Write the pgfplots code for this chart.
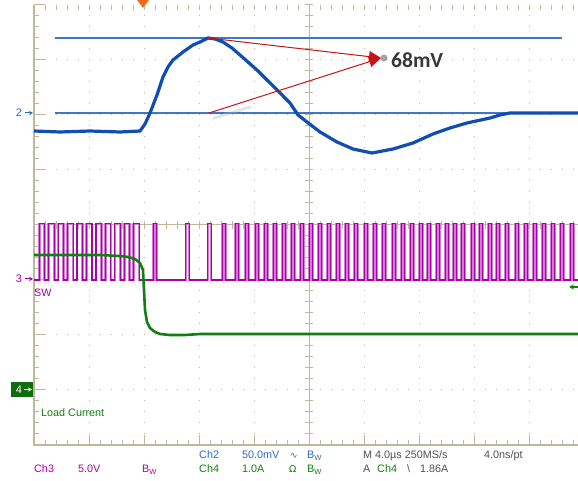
\documentclass[border=0pt]{standalone}
\usepackage{pgfplots}
\pgfplotsset{compat=1.18}
\usepackage{fontspec}
\setmainfont{Liberation Sans}
\newfontfamily\calfont{Carlito}
\newfontfamily\dvfont{DejaVu Sans}
\usetikzlibrary{arrows.meta}
\definecolor{scopetan}{RGB}{193,184,155}
\definecolor{trblue}{RGB}{18,78,178}
\definecolor{curblue}{RGB}{60,120,200}
\definecolor{txblue}{RGB}{45,106,200}
\definecolor{trmag}{RGB}{170,0,170}
\definecolor{trmaglight}{RGB}{215,120,215}
\definecolor{trgreen}{RGB}{16,128,16}
\definecolor{boxgreen}{RGB}{14,110,14}
\definecolor{arrred}{RGB}{200,20,20}
\definecolor{txgray}{RGB}{80,80,80}
\definecolor{trigorange}{RGB}{242,107,29}
\newcommand{\bw}{B\raisebox{-1.6pt}{\fontsize{7.5}{8}\selectfont W}}
\pgfplotstableread{
t v
0 3
0.385 4.02
0.785 3
1.072 4.02
1.472 3
1.758 4.02
2.158 3
2.445 4.02
2.845 3
3.131 4.02
3.531 3
3.818 4.02
4.218 3
4.504 4.02
4.904 3
5.191 4.02
5.591 3
5.877 4.02
6.277 3
6.564 4.02
6.964 3
7.250 4.02
7.650 3
8.68 4.02
8.92 3
11.044 4.02
11.284 3
12.644 4.02
12.884 3
13.698 4.02
13.938 3
14.644 4.02
14.884 3
15.371 4.02
15.611 3
16.098 4.02
16.338 3
16.753 4.02
16.993 3
17.407 4.02
17.647 3
18.062 4.02
18.302 3
18.716 4.02
18.956 3
19.371 4.02
19.611 3
20.025 4.02
20.265 3
20.68 4.02
20.92 3
21.335 4.02
21.575 3
21.989 4.02
22.229 3
22.644 4.02
22.884 3
23.298 4.02
23.538 3
24.025 4.02
24.265 3
24.68 4.02
24.92 3
25.335 4.02
25.575 3
26.062 4.02
26.302 3
26.716 4.02
26.956 3
27.371 4.02
27.611 3
28.025 4.02
28.265 3
28.607 4.02
28.847 3
29.262 4.02
29.502 3
29.916 4.02
30.156 3
30.498 4.02
30.738 3
31.08 4.02
31.32 3
31.807 4.02
32.047 3
32.389 4.02
32.629 3
33.044 4.02
33.284 3
33.625 4.02
33.865 3
34.28 4.02
34.52 3
35.007 4.02
35.247 3
35.662 4.02
35.902 3
36.316 4.02
36.556 3
36.971 4.02
37.211 3
37.625 4.02
37.865 3
38.28 4.02
38.52 3
39.007 4.02
39.247 3
39.6 3
}\swtable
\begin{document}
\begin{tikzpicture}[x=1pt,y=1pt]
\path[use as bounding box, fill=white] (0,0) rectangle (578,481);
% dotted graticule
\foreach \k in {1,2,3,4,6,7,8,9}
  \draw[scopetan, line width=1pt, dash pattern=on 1pt off 10pt, dash phase=0.5pt] ({34+55*\k},36) -- ({34+55*\k},476);
\foreach \k in {1,2,3,5,6,7}
  \draw[scopetan, line width=1pt, dash pattern=on 1pt off 10pt, dash phase=0.5pt] (34,{36+55*\k}) -- (584,{36+55*\k});
% frame and centre axes
\draw[scopetan, line width=1.3pt] (34,476) -- (34,36) -- (584,36);
\draw[scopetan, line width=1pt] (309,36) -- (309,476);
\draw[scopetan, line width=1pt] (34,256) -- (584,256);
\foreach \j in {0,...,40} {
  \draw[scopetan, line width=1pt] (34,{36+11*\j}) -- ++(5,0);
  \draw[scopetan, line width=1pt] (305,{36+11*\j}) -- ++(8,0);
}
\foreach \j in {0,...,8}
  \draw[scopetan, line width=1pt] (34,{36+55*\j}) -- ++(11,0);
\foreach \j in {0,...,50} {
  \draw[scopetan, line width=1pt] ({34+11*\j},36) -- ++(0,5);
  \draw[scopetan, line width=1pt] ({34+11*\j},476) -- ++(0,-5);
  \draw[scopetan, line width=1pt] ({34+11*\j},252) -- ++(0,8);
}
\foreach \j in {0,...,10}
  \draw[scopetan, line width=1pt] ({34+55*\j},36) -- ++(0,10);

\begin{axis}[at={(34pt,36pt)}, anchor=south west, scale only axis,
  width=544pt, height=440pt, xmin=0, xmax=39.564, ymin=0, ymax=8,
  hide axis, clip=true]
% Ch3 switch node (divisions)
\addplot[trmaglight, line width=2.6pt, const plot] table[x=t, y=v] {\swtable};
\addplot[trmag, line width=1.2pt, const plot] table[x=t, y=v] {\swtable};
% Ch4 load current
\addplot[trgreen, line width=2.6pt] coordinates {
(0,3.455)(4.8,3.455)(6.255,3.436)(6.836,3.418)(7.345,3.382)(7.709,3.309)
(7.927,3.182)(8.0,2.818)(8.073,2.455)(8.218,2.236)(8.436,2.127)(8.8,2.055)
(9.164,2.018)(9.891,2.0)(10.982,2.0)(12.073,2.018)(39.564,2.018)};
% cursors
\addplot[curblue, line width=1.2pt] coordinates {(1.527,7.4)(38.4,7.4)};
\addplot[curblue, line width=1.2pt] coordinates {(1.527,6.036)(38.4,6.036)};
% Ch2 output voltage
\addplot[trblue, line width=3.2pt] coordinates {
(0,5.709)(1.891,5.691)(4.073,5.709)(6.255,5.691)(7.709,5.709)(8.073,5.836)
(8.436,6.036)(8.945,6.364)(9.382,6.691)(9.745,6.873)(10.109,7.0)(10.836,7.145)
(11.564,7.273)(12.073,7.327)(12.655,7.4)(13.164,7.382)(13.745,7.327)(14.4,7.218)
(14.982,7.091)(16.218,6.818)(17.673,6.455)(18.618,6.218)(19.2,6.0)(19.855,5.873)
(20.8,5.691)(22.036,5.509)(23.2,5.382)(24.582,5.309)(26.109,5.382)(27.564,5.491)
(29.018,5.655)(30.255,5.764)(31.491,5.855)(33.164,5.945)(33.891,6.0)(34.618,6.036)
(36.291,6.036)(39.564,6.036)};
\end{axis}

% annotation arrows
\draw[black!30, opacity=0.35, line width=3pt, line cap=round] (214,363) -- (250,374);
\fill[black!60, opacity=0.6] (384,423) circle (3.5);
\draw[arrred, line width=1pt, -{Triangle[length=12pt,width=11pt]}] (208,443) -- (381,423);
\draw[arrred, line width=1pt, -{Triangle[length=12pt,width=11pt]}] (209,368) -- (381,423);
\node[anchor=base west, inner sep=0, text=black!78] at (391,413) {\calfont\bfseries\fontsize{21.5}{24}\selectfont 68mV};

% channel markers
\node[anchor=base, inner sep=0, text=txblue] at (19,364) {\fontsize{11}{12}\selectfont 2};
\draw[txblue, line width=1pt, -{Stealth[length=4pt,width=4pt]}] (25,368) -- (33,368);
\node[anchor=base, inner sep=0, text=trmag] at (19,198) {\fontsize{11}{12}\selectfont 3};
\draw[trmag, line width=1pt, -{Stealth[length=4pt,width=4pt]}] (25,202) -- (33,202);
\fill[boxgreen] (11,84) rectangle (33,99);
\node[anchor=base, inner sep=0, text=white] at (19,87) {\fontsize{11}{12}\selectfont 4};
\draw[white, line width=1pt, -{Stealth[length=4pt,width=4pt]}] (24,91.5) -- (32,91.5);
\fill[trigorange] (137,481) -- (149,481) -- (143,473) -- cycle;
\draw[trgreen, line width=1.2pt, -{Stealth[length=5pt,width=5pt]}] (579,194) -- (569,194);

\node[anchor=base west, inner sep=0, text=trmag] at (34,184) {\fontsize{10.8}{12}\selectfont SW};
\node[anchor=base west, inner sep=0, text=trgreen] at (41,64) {\fontsize{10.8}{12}\selectfont Load Current};

% status lines
\begin{scope}[every node/.style={anchor=base west, inner sep=0, font=\fontsize{10.8}{12}\selectfont}]
\node[text=txblue] at (199,22) {Ch2};
\node[text=txblue] at (242,22) {50.0mV};
\node[text=txblue] at (290,22) {\dvfont\fontsize{9}{10}\selectfont ∿};
\node[text=txblue] at (307,22) {\bw};
\node[text=txgray] at (363,22) {M 4.0µs 250MS/s};
\node[text=txgray] at (484,22) {4.0ns/pt};
\node[text=trmag] at (34,8) {Ch3};
\node[text=trmag] at (78,8) {5.0V};
\node[text=trmag] at (142,8) {\bw};
\node[text=trgreen] at (199,8) {Ch4};
\node[text=trgreen] at (242,8) {1.0A};
\node[text=trgreen] at (289,8) {\dvfont\fontsize{9.5}{10}\selectfont Ω};
\node[text=trgreen] at (307,8) {\bw};
\node[text=txgray] at (363,8) {A};
\node[text=trgreen] at (377,8) {Ch4};
\node[text=txgray] at (407,8) {\textbackslash};
\node[text=txgray] at (420,8) {1.86A};
\end{scope}
\end{tikzpicture}
\end{document}
